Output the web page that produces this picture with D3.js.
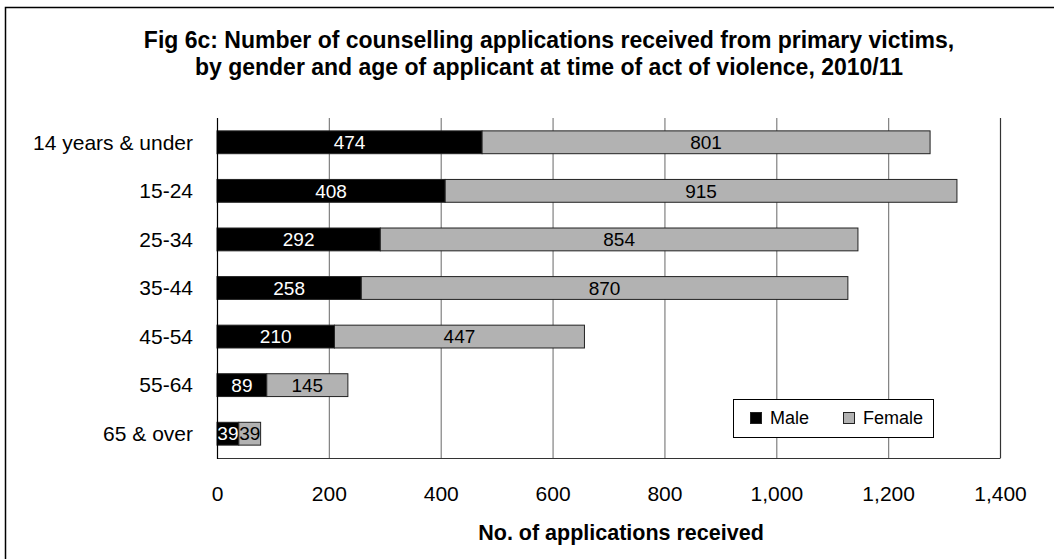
<!DOCTYPE html>
<html>
<head>
<meta charset="utf-8">
<script src="https://cdn.jsdelivr.net/npm/d3@7"></script>
<style>
  body { margin: 0; background: #fff; }
  text { font-family: "Liberation Sans", Arial, sans-serif; }
</style>
</head>
<body>
<div id="chart"></div>
<script>
// data
const ageGroups = ["14 years & under", "15-24", "25-34", "35-44", "45-54", "55-64", "65 & over"];
const male = [474, 408, 292, 258, 210, 89, 39];
const female = [801, 915, 854, 870, 447, 145, 39];
const xTicks = [0, 200, 400, 600, 800, 1000, 1200, 1400];
const titleLines = [
  "Fig 6c: Number of counselling applications received from primary victims,",
  "by gender and age of applicant at time of act of violence, 2010/11"
];
const seriesNames = ["Male", "Female"];

function drawChart(svgName) {
  const width = 1054;
  const height = 559;
  const colors = ["#000000", "#b2b2b2"];
  const labelColors = ["#ffffff", "#000000"];

  const svg = d3.select(svgName)
    .append("svg")
    .attr("width", width)
    .attr("height", height);

  // outer frame (runs off the right and bottom of the picture)
  svg.append("rect")
    .attr("x", 5.5).attr("y", 7.5)
    .attr("width", 1100).attr("height", 600)
    .attr("fill", "none")
    .attr("stroke", "#000")
    .attr("stroke-width", 1.5);

  // title
  svg.append("g")
    .selectAll("text")
    .data(titleLines)
    .join("text")
    .attr("x", 549)
    .attr("y", (d, i) => 48 + i * 27)
    .attr("text-anchor", "middle")
    .attr("font-size", "23px")
    .attr("font-weight", "bold")
    .text(d => d);

  const x = d3.scaleLinear().domain([0, 1400]).range([217, 1000]);
  const y = d3.scaleBand()
    .domain(ageGroups)
    .range([118, 458])
    .paddingInner(0.53)
    .paddingOuter(0.265);

  // gridlines
  svg.append("g")
    .selectAll("line")
    .data(xTicks.slice(1))
    .join("line")
    .attr("x1", d => x(d) + 0.5).attr("x2", d => x(d) + 0.5)
    .attr("y1", 118).attr("y2", 458)
    .attr("stroke", d => d === 1400 ? "#333" : "#808080")
    .attr("stroke-width", 1.2);

  // stack the two series
  const rows = ageGroups.map((g, i) => ({ group: g, Male: male[i], Female: female[i] }));
  const stacked = d3.stack().keys(seriesNames)(rows);

  const layers = svg.append("g")
    .selectAll("g")
    .data(stacked)
    .join("g");

  layers.selectAll("rect")
    .data((d, k) => d.map(s => ({ s: s, k: k })))
    .join("rect")
    .attr("x", d => x(d.s[0]))
    .attr("y", d => y(d.s.data.group))
    .attr("width", d => x(d.s[1]) - x(d.s[0]))
    .attr("height", y.bandwidth())
    .attr("fill", d => colors[d.k])
    .attr("stroke", "#222")
    .attr("stroke-width", 1);

  // value labels in the middle of each segment
  layers.selectAll("text")
    .data((d, k) => d.map(s => ({ s: s, k: k })))
    .join("text")
    .attr("x", d => (x(d.s[0]) + x(d.s[1])) / 2)
    .attr("y", d => y(d.s.data.group) + y.bandwidth() / 2)
    .attr("dy", "0.35em")
    .attr("text-anchor", "middle")
    .attr("font-size", "19px")
    .attr("fill", d => labelColors[d.k])
    .text(d => d.s[1] - d.s[0]);

  // axes lines
  svg.append("line")
    .attr("x1", 217).attr("x2", 1000.5)
    .attr("y1", 458.5).attr("y2", 458.5)
    .attr("stroke", "#333").attr("stroke-width", 1.2);
  svg.append("line")
    .attr("x1", 217.5).attr("x2", 217.5)
    .attr("y1", 118).attr("y2", 459)
    .attr("stroke", "#000").attr("stroke-width", 1.2);

  // x axis labels
  const xAxis = d3.axisBottom(x)
    .tickValues(xTicks)
    .tickSize(0)
    .tickPadding(28)
    .tickFormat(d3.format(","));
  const gx = svg.append("g")
    .attr("transform", "translate(0,458)")
    .call(xAxis);
  gx.select(".domain").remove();
  gx.selectAll("text")
    .attr("font-size", "21px")
    .attr("font-family", "Liberation Sans, Arial, sans-serif")
    .attr("fill", "#000");

  // category labels
  svg.append("g")
    .selectAll("text")
    .data(ageGroups)
    .join("text")
    .attr("x", 193)
    .attr("y", d => y(d) + y.bandwidth() / 2)
    .attr("dy", "0.35em")
    .attr("text-anchor", "end")
    .attr("font-size", "21px")
    .text(d => d);

  // axis title
  svg.append("text")
    .attr("x", 621)
    .attr("y", 540)
    .attr("text-anchor", "middle")
    .attr("font-size", "21.5px")
    .attr("font-weight", "bold")
    .text("No. of applications received");

  // legend
  const legend = svg.append("g");
  legend.append("rect")
    .attr("x", 733.5).attr("y", 399.5)
    .attr("width", 200).attr("height", 38)
    .attr("fill", "#fff")
    .attr("stroke", "#000");
  const legendX = [750, 843];
  const items = legend.selectAll("g")
    .data(seriesNames)
    .join("g")
    .attr("transform", (d, i) => `translate(${legendX[i]}, 418)`);
  items.append("rect")
    .attr("x", 0.5).attr("y", -5.5)
    .attr("width", 11).attr("height", 11)
    .attr("fill", (d, i) => colors[i])
    .attr("stroke", "#222");
  items.append("text")
    .attr("x", 20)
    .attr("dy", "0.35em")
    .attr("font-size", "18px")
    .text(d => d);
}

drawChart("#chart");
</script>
</body>
</html>
